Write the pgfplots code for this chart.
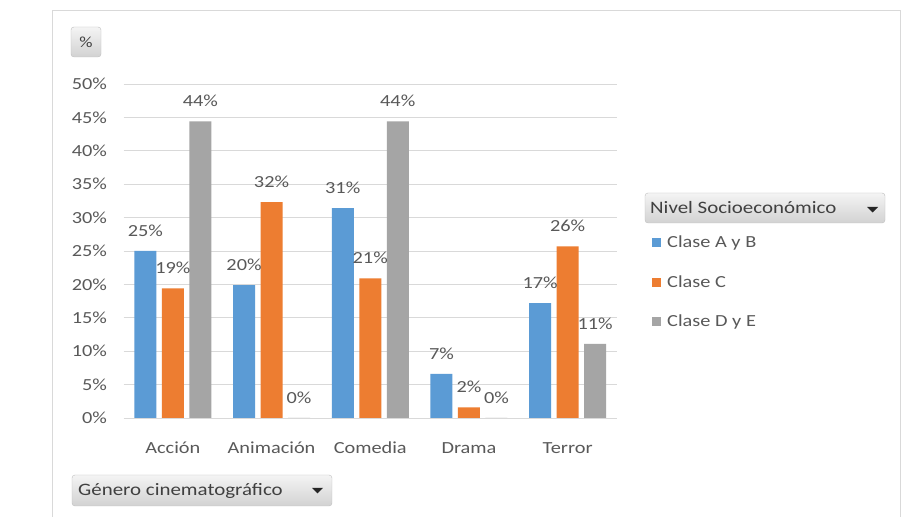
\documentclass[border=0pt]{standalone}
\usepackage{pgfplots}
\pgfplotsset{compat=1.18}
\usepackage{fontspec}
\setmainfont{Carlito}[FakeStretch=1.2]
\definecolor{cA}{HTML}{5B9BD5}
\definecolor{cC}{HTML}{ED7D31}
\definecolor{cD}{HTML}{A5A5A5}
\definecolor{txt}{HTML}{595959}
\definecolor{gridc}{HTML}{D9D9D9}
\definecolor{btxt}{HTML}{404040}
\definecolor{btop}{HTML}{F4F4F4}
\definecolor{bbot}{HTML}{D2D2D2}
\definecolor{bborder}{HTML}{BFBFBF}
\pgfplotsset{sq legend/.style={legend image code/.code={\fill[##1,draw=none] (0bp,-4.5bp) rectangle (9bp,4.5bp);}}}
\begin{document}
\begin{tikzpicture}[x=1bp,y=1bp]
\useasboundingbox (0,0) rectangle (904,517);
\fill[white] (0,0) rectangle (904,517);
\draw[gridc, line width=1bp] (52,0) -- (52,506) -- (900,506) -- (900,0);
\begin{axis}[
  at={(123.5bp,99bp)}, anchor=south west,
  scale only axis, width=493.5bp, height=334bp,
  ymin=0, ymax=50, xmin=-0.5, xmax=4.5,
  ybar=5.5bp, bar width=22bp,
  axis line style={draw=none},
  ymajorgrids, major grid style={gridc, line width=0.9bp},
  tick style={draw=none},
  ytick={0,5,...,50},
  yticklabels={0\%,5\%,10\%,15\%,20\%,25\%,30\%,35\%,40\%,45\%,50\%},
  xtick={0,1,2,3,4},
  xticklabels={Acción,Animación,Comedia,Drama,Terror},
  ticklabel style={font=\fontsize{17}{20}\selectfont, text=txt},
  yticklabel style={xshift=-13bp},
  xticklabel style={yshift=-12.5bp, text height=15bp, text depth=4bp},
  /pgf/number format/assume math mode=true,
  point meta=y,
  nodes near coords={\pgfmathprintnumber[fixed,precision=0]{\pgfplotspointmeta}\%},
  every node near coord/.append style={font=\fontsize{17}{20}\selectfont, text=txt, yshift=11bp},
  legend style={at={(1.071,0.551)}, anchor=north west, draw=none, fill=none,
    inner sep=0pt, font=\fontsize{17}{20}\selectfont, text=txt, row sep=22bp,
    /tikz/every odd column/.append style={column sep=4bp}},
  legend cell align=left,
  clip=false,
]
\addplot[fill=cA, draw=none, sq legend] coordinates {(0,25.0) (1,19.9) (2,31.4) (3,6.6) (4,17.2)};
\addplot[fill=cC, draw=none, sq legend] coordinates {(0,19.4) (1,32.3) (2,20.9) (3,1.6) (4,25.7)};
\addplot[fill=cD, draw=none, sq legend] coordinates {(0,44.4) (1,0) (2,44.4) (3,0) (4,11.1)};
\legend{Clase A y B, Clase C, Clase D y E}
\end{axis}
% buttons
\draw[rounded corners=3bp, draw=bborder, top color=btop, bottom color=bbot] (71,460) rectangle (101,490);
\node[text=btxt, font=\fontsize{15.5}{18}\selectfont] at (86,475) {\%};
\draw[rounded corners=3bp, draw=bborder, top color=btop, bottom color=bbot] (645,294) rectangle (885,324);
\node[text=btxt, font=\fontsize{17.5}{20}\selectfont, anchor=west, inner sep=0pt] at (650,309) {Nivel Socioeconómico};
\fill[black!85] (867,310) -- (878,310) -- (872.5,304.5) -- cycle;
\draw[rounded corners=3bp, draw=bborder, top color=btop, bottom color=bbot] (72,11) rectangle (332,42);
\node[text=btxt, font=\fontsize{17.5}{20}\selectfont, anchor=west, inner sep=0pt] at (78,26.5) {Género cinematográfico};
\fill[black!85] (312,29) -- (323,29) -- (317.5,23.5) -- cycle;
\end{tikzpicture}
\end{document}
